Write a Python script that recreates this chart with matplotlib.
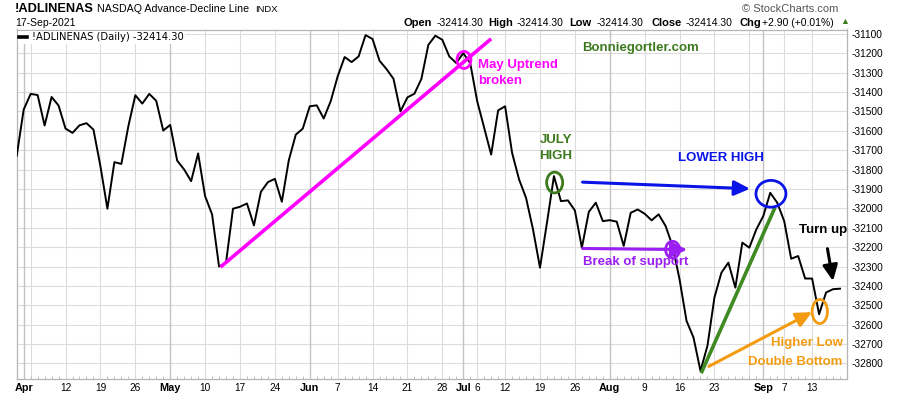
import matplotlib
matplotlib.use('Agg')
import matplotlib.pyplot as plt
from matplotlib.patches import Ellipse
import numpy as np
import pandas as pd

plt.rcParams['font.family'] = ['Liberation Sans', 'DejaVu Sans']
plt.rcParams['axes.unicode_minus'] = False

# trading calendar shown on the chart
start_date, end_date = '2021-03-31', '2021-09-17'
holidays = ['2021-04-02', '2021-05-31', '2021-07-05', '2021-09-06']

# daily close of the NASDAQ advance-decline line
ad_line = [
    -31730, -31491, -31410, -31416, -31573, -31426, -31470, -31589, -31611, -31572,
    -31561, -31594, -31783, -32002, -31762, -31771, -31577, -31417, -31460, -31410,
    -31446, -31599, -31570, -31754, -31800, -31860, -31717, -31937, -32031, -32300,
    -32280, -32002, -31992, -31975, -32088, -31915, -31865, -31848, -31966, -31752,
    -31620, -31589, -31474, -31469, -31537, -31448, -31320, -31220, -31246, -31217,
    -31107, -31127, -31239, -31282, -31332, -31500, -31428, -31409, -31333, -31157,
    -31110, -31131, -31217, -31251, -31200, -31251, -31448, -31585, -31723, -31495,
    -31474, -31714, -31851, -31946, -32109, -32306, -32074, -31834, -31963, -31959,
    -32011, -32203, -32018, -31971, -32066, -32061, -32069, -32194, -32023, -32006,
    -32028, -32062, -32031, -32091, -32194, -32366, -32580, -32666, -32838, -32709,
    -32460, -32332, -32280, -32409, -32177, -32203, -32109, -32040, -31920, -31971,
    -32066, -32260, -32246, -32362, -32362, -32546, -32434, -32417, -32414.30,
]

# x-axis labels
month_dates = ['2021-04-01', '2021-05-03', '2021-06-01', '2021-07-01', '2021-08-02', '2021-09-01']
month_labels = ['Apr', 'May', 'Jun', 'Jul', 'Aug', 'Sep']
week_dates = ['2021-04-12', '2021-04-19', '2021-04-26', '2021-05-10', '2021-05-17', '2021-05-24',
              '2021-06-07', '2021-06-14', '2021-06-21', '2021-06-28', '2021-07-06', '2021-07-12',
              '2021-07-19', '2021-07-26', '2021-08-09', '2021-08-16', '2021-08-23', '2021-09-07',
              '2021-09-13']
week_labels = ['12', '19', '26', '10', '17', '24', '7', '14', '21', '28', '6', '12', '19', '26',
               '9', '16', '23', '7', '13']
# extra weekly grid lines without a label
grid_only_dates = ['2021-04-05', '2021-08-30']
y_ticks = list(range(-31100, -32900, -100))

# annotation anchors, (trading-day number, value)
uptrend_line = [(29.2, -32303), (68.0, -31126)]
july_to_sep_arrow = [(81.1, -31865), (105.1, -31899)]
support_arrow = [(81.1, -32207), (96.1, -32213)]
rally_line = [(98.1, -32850), (108.7, -31994)]
higher_low_arrow = [(99.2, -32815), (114.0, -32535)]
turn_up_arrow = [(116.2, -32208), (117.0, -32375)]
circles = [  # centre, width, height, colour
    ((64.1, -31235), 2.0, 88, '#ff00ff'),
    ((77.1, -31867), 2.3, 107, '#3d7a1e'),
    ((108.1, -31925), 4.3, 138, '#0a14e6'),
    ((94.0, -32213), 2.0, 86, '#9b1ff2'),
    ((115.1, -32532), 2.2, 124, '#f39c12'),
]

dates = pd.bdate_range(start_date, end_date, freq='C', holidays=holidays)
assert len(dates) == len(ad_line)
pos = {d.strftime('%Y-%m-%d'): i for i, d in enumerate(dates)}
x = np.arange(len(dates))

W, H = 900, 396
fig = plt.figure(figsize=(W / 100, H / 100), dpi=100)
left, right, top, bottom = 16.7, 847, 29.5, 379
ax = fig.add_axes([left / W, 1 - bottom / H, (right - left) / W, (bottom - top) / H])

ax.plot(x, ad_line, color='black', lw=1.4, zorder=3, label='!ADLINENAS (Daily) -32414.30')
ax.set_xlim(0.386, 119.0)
ax.set_ylim(-32880, -31078)

# grid
for v in y_ticks:
    ax.axhline(v, color='#dcdcdc', lw=0.8, zorder=0)
for d in week_dates + grid_only_dates:
    ax.axvline(pos[d], color='#dcdcdc', lw=0.8, zorder=0)
for d in month_dates:
    ax.axvline(pos[d], color='#c2c2c2', lw=1.0, zorder=0)

for s in ax.spines.values():
    s.set_color('#b5b5b5')
    s.set_linewidth(0.9)

ax.yaxis.tick_right()
ax.set_yticks(y_ticks)
ax.set_yticklabels([str(v) for v in y_ticks], fontsize=7.3)
ax.tick_params(axis='y', length=0, pad=3)

xt = [pos[d] for d in month_dates + week_dates]
ax.set_xticks(xt)
ax.set_xticklabels(month_labels + week_labels, fontsize=7.3)
for lab in ax.get_xticklabels()[:len(month_labels)]:
    lab.set_fontweight('bold')
    lab.set_fontsize(7.8)
ax.tick_params(axis='x', length=0, pad=3)
ax.set_xticks(x, minor=True)
ax.tick_params(axis='x', which='minor', length=2, direction='in', color='#b5b5b5', width=0.6)

# trendlines and arrows
def seg(points, color, lw=2.5):
    (x0, y0), (x1, y1) = points
    ax.plot([x0, x1], [y0, y1], color=color, lw=lw, solid_capstyle='butt', zorder=4)


def arrow(points, color, lw=2.2):
    (x0, y0), (x1, y1) = points
    ax.annotate('', xy=(x1, y1), xytext=(x0, y0),
                arrowprops=dict(arrowstyle='-|>,head_length=0.95,head_width=0.45', color=color,
                                lw=lw, shrinkA=0, shrinkB=0), zorder=5)


seg(uptrend_line, '#ff00ff', 2.6)
seg(rally_line, '#3f8a23', 2.6)
arrow(july_to_sep_arrow, '#0a14e6')
arrow(support_arrow, '#9b1ff2')
arrow(higher_low_arrow, '#f39c12')
arrow(turn_up_arrow, 'black')

for (cx, cy), w, h, c in circles:
    ax.add_patch(Ellipse((cx, cy), w, h, fill=False, edgecolor=c, lw=2.0, zorder=5))

txt = dict(fontsize=9.5, fontweight='bold')
ax.text(66.1, -31302, 'May Uptrend\nbroken', color='#ff00ff', ha='left', va='center',
        linespacing=1.45, **txt)
ax.text(89.4, -31171, 'Bonniegortler.com', color='#3d7a1e', ha='center', va='center', **txt)
ax.text(77.3, -31691, 'JULY\nHIGH', color='#3d7a1e', ha='center', va='center',
        linespacing=1.45, **txt)
ax.text(101.0, -31743, 'LOWER HIGH', color='#0a14e6', ha='center', va='center', **txt)
ax.text(81.1, -32279, 'Break of support', color='#9b1ff2', ha='left', va='center', **txt)
ax.text(115.6, -32114, 'Turn up', color='black', ha='center', va='center', **txt)
ax.text(118.4, -32743, 'Higher Low\nDouble Bottom', color='#f39c12', ha='right', va='center',
        multialignment='right', linespacing=1.7, **txt)

leg = ax.legend(loc='upper left', bbox_to_anchor=(0.0, 1.0), fontsize=7.2, frameon=True,
                fancybox=False, framealpha=1, edgecolor='none', handlelength=0.75,
                handletextpad=0.5, borderpad=0.15, borderaxespad=0.1,
                prop={'family': 'DejaVu Sans', 'size': 7.2})
leg.get_lines()[0].set_linewidth(2.6)
leg.set_zorder(6)

# header
def ftext(px, py, s, **kw):
    fig.text(px / W, 1 - py / H, s, va='center', **kw)


ftext(15, 8.5, '!ADLINENAS', fontsize=9.2, fontweight='bold')
ftext(97, 8.5, 'NASDAQ Advance-Decline Line', fontsize=7.7)
ftext(255, 9, 'INDX', fontsize=6.8)
ftext(15, 23, '17-Sep-2021', fontsize=7.5)
ftext(838, 9, '\u00a9 StockCharts.com', fontsize=8, color='#555555', ha='right')
header = [('Open', 403, True), ('-32414.30', 437, False), ('High', 488, True),
          ('-32414.30', 517, False), ('Low', 569, True), ('-32414.30', 597, False),
          ('Close', 651, True), ('-32414.30', 686, False), ('Chg', 739, True),
          ('+2.90 (+0.01%)', 762, False)]
for s, px, b in header:
    ftext(px, 23, s, fontsize=8 if b else 7.5, fontweight='bold' if b else 'normal')
ftext(840, 22, '\u25b2', fontsize=6.5, color='#3d7a1e')

fig.savefig('out.png', dpi=100)
